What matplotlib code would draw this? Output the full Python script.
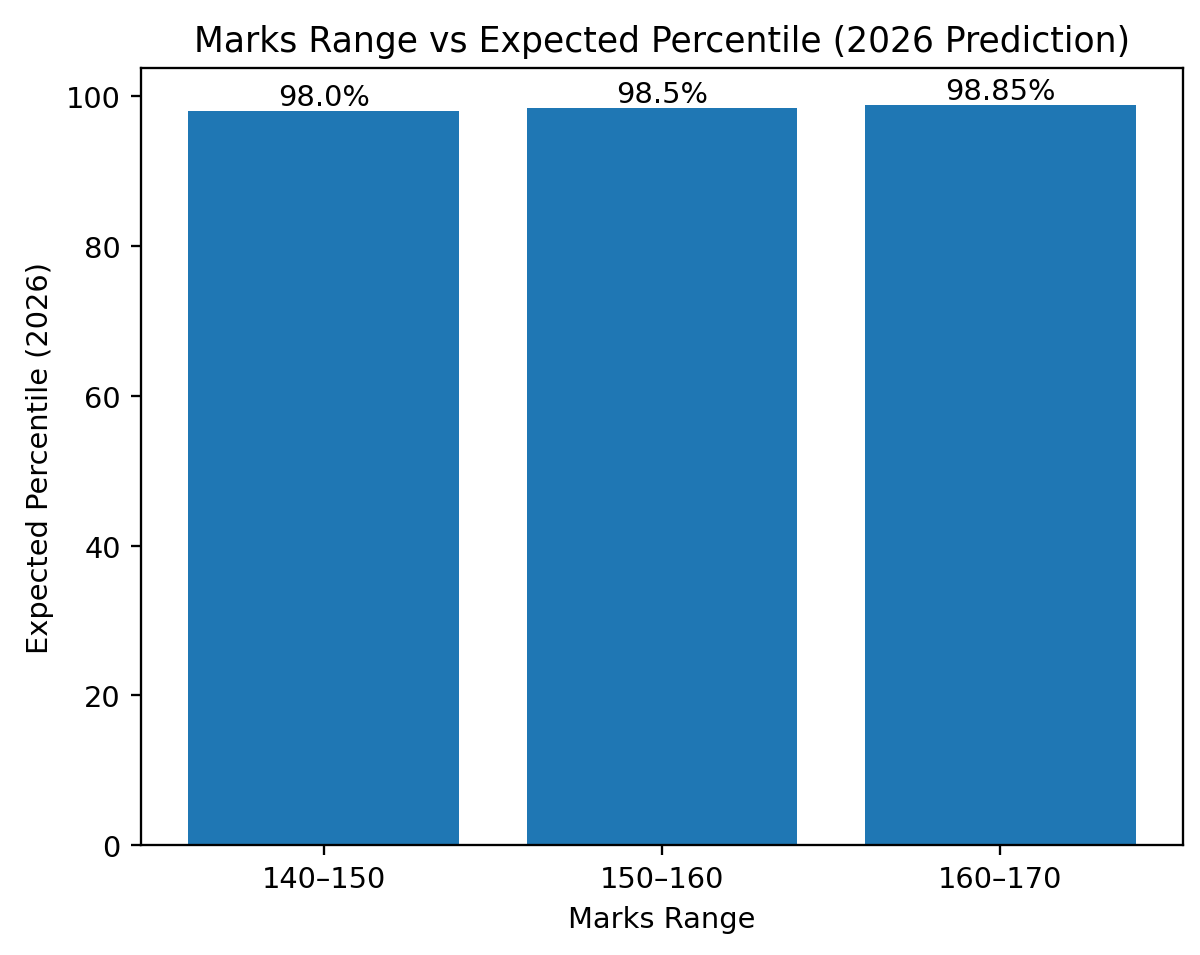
import matplotlib
matplotlib.use("Agg")
import matplotlib.pyplot as plt

# data
marks_ranges = ["140\u2013150", "150\u2013160", "160\u2013170"]
percentiles = [98.0, 98.5, 98.85]

DPI = 208
fig = plt.figure(figsize=(1200 / DPI, 956 / DPI), dpi=DPI)
ax = fig.add_axes([141 / 1200, 1 - 846 / 956, 1042 / 1200, (846 - 69) / 956])

bars = ax.bar(marks_ranges, percentiles, color="#1f77b4")
ax.bar_label(bars, labels=[f"{v}%" for v in percentiles])

ax.set_title("Marks Range vs Expected Percentile (2026 Prediction)")
ax.set_xlabel("Marks Range")
ax.set_ylabel("Expected Percentile (2026)")

fig.savefig("out.png", dpi=DPI)
